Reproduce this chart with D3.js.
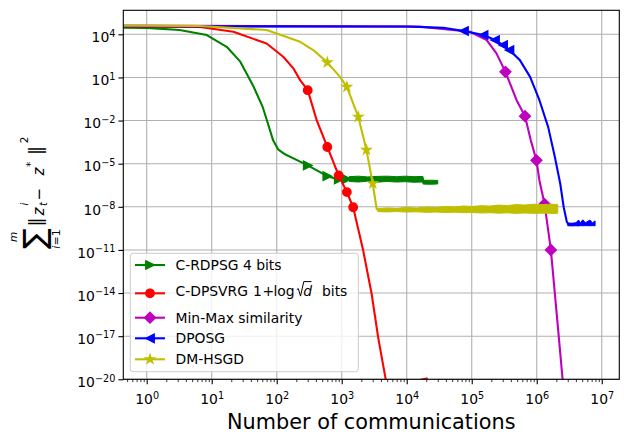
<!DOCTYPE html>
<html>
<head>
<meta charset="utf-8">
<script src="https://cdn.jsdelivr.net/npm/d3@7"></script>
<style>
  body { margin: 0; background: #fff; }
  svg { font-family: "DejaVu Sans", sans-serif; }
</style>
</head>
<body>
<svg id="chart" width="629" height="443"></svg>
<script>
// Values: [communications, error]
const rdpsgLine = [[0.44, 2.9e4], [1, 2.8e4], [3.2, 2e4], [8.4, 8.9e3], [17, 1.35e3], [27.5, 125], [43, 2.9], [61, 0.085], [73, 6.5e-3], [88, 4.2e-4], [105, 1e-4], [134, 4.5e-5], [229, 1.4e-5], [300, 7.6e-6], [600, 1.35e-6], [900, 8e-7], [1200, 8.5e-7], [17800, 8.5e-7], [17900, 5.2e-7], [30000, 5.2e-7]];
const rdpsgMarkX = [300, 600, 900, 1200];
const rdpsgMarkY = [7.6e-6, 1.35e-6, 8e-7, 8.5e-7];
// noisy plateau envelope: [x, low, high]
const rdpsgBand = [[1300, 5.8e-7, 1.25e-6], [1800, 5.3e-7, 1.35e-6], [2500, 6e-7, 1.2e-6], [3500, 5.2e-7, 1.3e-6], [5000, 5.8e-7, 1.35e-6], [7000, 5.3e-7, 1.25e-6], [9500, 5.6e-7, 1.35e-6], [13000, 5.1e-7, 1.25e-6], [17800, 5.4e-7, 1.3e-6], [17900, 3.8e-7, 6.9e-7], [23000, 3.7e-7, 7.1e-7], [30000, 3.9e-7, 6.8e-7]];

const dpsvrgLine = [[0.44, 3.5e4], [1, 3.4e4], [6.6, 3.2e4], [21.5, 1.5e4], [70, 2.3e3], [126, 275], [180, 43], [229, 6.5], [300, 1.3], [412, 1.05e-2], [600, 1.45e-4], [900, 1.5e-6], [1200, 1.05e-7], [1500, 9.3e-9], [2140, 9e-12], [2890, 8.5e-15], [3640, 8e-18], [4790, 8e-21], [6000, 1e-24], [15900, 9e-21], [20300, 1.15e-20], [21000, 1e-24]];
const dpsvrgMarkX = [300, 600, 900, 1200, 1500];
const dpsvrgMarkY = [1.3, 1.45e-4, 1.5e-6, 1.05e-7, 9.3e-9];

const minmaxLine = [[0.44, 4e4], [1.6e4, 3.4e4], [9.4e4, 1.5e4], [1.7e5, 4e3], [2.4e5, 470], [3.3e5, 24.5], [4.9e5, 0.26], [6.6e5, 0.02], [8.1e5, 4.2e-4], [9.9e5, 1.7e-5], [1.1e6, 6.8e-7], [1.32e6, 1.55e-8], [1.65e6, 1e-11], [2.03e6, 3.4e-16], [2.5e6, 1e-20], [2.7e6, 1e-22]];
const minmaxMarkX = [3.3e5, 6.6e5, 9.9e5, 1.32e6, 1.65e6];
const minmaxMarkY = [24.5, 0.02, 1.7e-5, 1.55e-8, 1e-11];

const dposgLine = [[0.44, 3.6e4], [1e4, 3.5e4], [3.7e4, 2.8e4], [7.6e4, 1.7e4], [1.52e5, 8.9e3], [2.28e5, 4e3], [3.04e5, 1.8e3], [3.8e5, 800], [5.5e5, 160], [7.9e5, 11], [1.1e6, 0.26], [1.5e6, 3.5e-3], [1.9e6, 2.9e-5], [2.3e6, 4e-7], [2.6e6, 9.3e-9], [2.9e6, 9e-10], [3.1e6, 6.1e-10], [7.9e6, 6.1e-10]];
const dposgMarkX = [7.6e4, 1.52e5, 2.28e5, 3.04e5, 3.8e5];
const dposgMarkY = [1.7e4, 8.9e3, 4e3, 1.8e3, 800];
const dposgBand = [[3e6, 4.8e-10, 7.4e-10], [3.5e6, 4.7e-10, 7.2e-10], [4e6, 4.8e-10, 7.8e-10], [4.4e6, 4.7e-10, 1.2e-9], [4.7e6, 4.9e-10, 7.5e-10], [5.1e6, 4.8e-10, 1.25e-9], [5.6e6, 4.9e-10, 7.8e-10], [6.6e6, 4.8e-10, 1.2e-9], [7.2e6, 4.9e-10, 7.6e-10], [7.9e6, 4.8e-10, 1.05e-9]];

const dmhsgdLine = [[0.44, 4e4], [6.6, 3.8e4], [70, 2e4], [229, 3e3], [365, 800], [600, 112], [940, 11], [1200, 2.2], [1800, 1.8e-2], [2400, 9.1e-5], [3000, 4.2e-7], [3450, 7e-9], [3700, 5.9e-9], [2.1e6, 5.9e-9]];
const dmhsgdMarkX = [600, 1200, 1800, 2400, 3000];
const dmhsgdMarkY = [112, 2.2, 1.8e-2, 9.1e-5, 4.2e-7];
const dmhsgdBand = [[3600, 4.6e-9, 7.6e-9], [5000, 4.4e-9, 8.4e-9], [7000, 4.7e-9, 7.8e-9], [1e4, 4.3e-9, 9.2e-9], [1.4e4, 4.5e-9, 8.2e-9], [2e4, 4.1e-9, 9.8e-9], [2.8e4, 4.3e-9, 8.8e-9], [4e4, 4e-9, 1.07e-8], [5.5e4, 4.2e-9, 9.6e-9], [7.5e4, 3.9e-9, 1.15e-8], [1e5, 4e-9, 1.04e-8], [1.4e5, 3.7e-9, 1.2e-8], [1.9e5, 3.9e-9, 1.12e-8], [2.6e5, 3.6e-9, 1.32e-8], [3.5e5, 3.8e-9, 1.2e-8], [4.8e5, 3.5e-9, 1.42e-8], [6.5e5, 3.7e-9, 1.32e-8], [9e5, 3.5e-9, 1.52e-8], [1.2e6, 3.6e-9, 1.42e-8], [1.6e6, 3.5e-9, 1.52e-8], [2.1e6, 3.5e-9, 1.46e-8]];

const legendLabels = ["C-RDPSG 4 bits", "C-DPSVRG", "Min-Max similarity", "DPOSG", "DM-HSGD"];
const xTickExp = [0, 1, 2, 3, 4, 5, 6, 7];
const yTickExp = [4, 1, -2, -5, -8, -11, -14, -17, -20];

// Set up dimensions and margins
const margin = { top: 10.3, right: 9.7, bottom: 63.7, left: 123.3 };
const width = 629 - margin.left - margin.right;
const height = 443 - margin.top - margin.bottom;

const root = d3.select("#chart");
const svg = root
  .append("g")
  .attr("transform", "translate(" + margin.left + "," + margin.top + ")");

const x = d3.scaleLog().domain([Math.pow(10, -0.36), Math.pow(10, 7.27)]).range([0, width]);
const y = d3.scaleLog().domain([1e-20, Math.pow(10, 5.67)]).range([height, 0]);

// Grid
const grid = svg.append("g").attr("stroke", "#b0b0b0").attr("stroke-width", 1.1);
grid.selectAll(".gx").data(xTickExp).enter().append("line")
  .attr("x1", (d) => x(Math.pow(10, d))).attr("x2", (d) => x(Math.pow(10, d)))
  .attr("y1", 0).attr("y2", height);
grid.selectAll(".gy").data(yTickExp).enter().append("line")
  .attr("y1", (d) => y(Math.pow(10, d))).attr("y2", (d) => y(Math.pow(10, d)))
  .attr("x1", 0).attr("x2", width);

svg.append("clipPath").attr("id", "clip")
  .append("rect").attr("width", width).attr("height", height);
const plot = svg.append("g").attr("clip-path", "url(#clip)");

const line = d3.line().x((d) => x(d[0])).y((d) => y(d[1]));
const area = d3.area().x((d) => x(d[0])).y0((d) => y(d[1])).y1((d) => y(d[2]));

// marker shapes
const shapes = {
  right: "M4.2,0L-4.2,-4.2L-4.2,4.2Z",
  left: "M-4.2,0L4.2,-4.2L4.2,4.2Z",
  circle: d3.symbol(d3.symbolCircle, Math.PI * 4.2 * 4.2)(),
  diamond: "M0,-5.4L5.4,0L0,5.4L-5.4,0Z",
  star: (() => {
    let p = "";
    for (let i = 0; i < 10; i++) {
      const r = i % 2 ? 1.75 : 4.6;
      const a = (i * Math.PI) / 5 - Math.PI / 2;
      p += (i ? "L" : "M") + (r * Math.cos(a)).toFixed(2) + "," + (r * Math.sin(a)).toFixed(2);
    }
    return p + "Z";
  })(),
};

const series = [
  { pts: rdpsgLine, band: rdpsgBand, mx: rdpsgMarkX, my: rdpsgMarkY, color: "#008000", shape: "right" },
  { pts: dpsvrgLine, band: null, mx: dpsvrgMarkX, my: dpsvrgMarkY, color: "#ff0000", shape: "circle" },
  { pts: minmaxLine, band: null, mx: minmaxMarkX, my: minmaxMarkY, color: "#bf00bf", shape: "diamond" },
  { pts: dposgLine, band: dposgBand, mx: dposgMarkX, my: dposgMarkY, color: "#0000ff", shape: "left" },
  { pts: dmhsgdLine, band: dmhsgdBand, mx: dmhsgdMarkX, my: dmhsgdMarkY, color: "#bfbf00", shape: "star" },
];

series.forEach((s) => {
  const g = plot.append("g");
  if (s.band) {
    g.append("path").datum(s.band).attr("d", area)
      .attr("fill", s.color).attr("stroke", s.color).attr("stroke-width", 1);
  }
  g.append("path").datum(s.pts).attr("d", line)
    .attr("fill", "none").attr("stroke", s.color).attr("stroke-width", 2.1)
    .attr("stroke-linejoin", "round");
  g.selectAll(".mk").data(d3.zip(s.mx, s.my)).enter().append("path")
    .attr("transform", (d) => "translate(" + x(d[0]) + "," + y(d[1]) + ")")
    .attr("d", shapes[s.shape])
    .attr("fill", s.color).attr("stroke", s.color).attr("stroke-width", 1.4)
    .attr("stroke-linejoin", "miter");
});

// superscript tick labels
function expLabel(text, e) {
  text.text(null);
  text.append("tspan").text("10");
  text.append("tspan").attr("dy", -5.6).attr("font-size", 9.7)
    .text(e < 0 ? "\u2212" + -e : String(e));
}

// minor x ticks
const xMinor = [];
for (let k = -1; k <= 7; k++) for (let m = 2; m <= 9; m++) {
  const v = m * Math.pow(10, k);
  if (v > x.domain()[0] && v < x.domain()[1]) xMinor.push(v);
}
svg.append("g").attr("transform", "translate(0," + height + ")")
  .call(d3.axisBottom(x).tickValues(xMinor).tickSize(2.8).tickFormat(""))
  .call((g) => g.select(".domain").remove())
  .selectAll("line").attr("stroke-width", 0.8);

const xAxis = svg.append("g").attr("transform", "translate(0," + height + ")")
  .call(d3.axisBottom(x).tickValues(xTickExp.map((e) => Math.pow(10, e))).tickSize(4.9))
  .attr("font-size", 13.9).attr("font-family", "DejaVu Sans");
xAxis.select(".domain").remove();
xAxis.selectAll("line").attr("stroke-width", 1.1);
xAxis.selectAll(".tick text").attr("dy", null).attr("y", 25)
  .each(function (d, i) { expLabel(d3.select(this), xTickExp[i]); });

const yAxis = svg.append("g")
  .call(d3.axisLeft(y).tickValues(yTickExp.map((e) => Math.pow(10, e))).tickSize(4.9).tickPadding(3))
  .attr("font-size", 13.9).attr("font-family", "DejaVu Sans");
yAxis.select(".domain").remove();
yAxis.selectAll("line").attr("stroke-width", 1.1);
yAxis.selectAll(".tick text").attr("dy", null).attr("y", 7.3)
  .each(function (d, i) { expLabel(d3.select(this), yTickExp[i]); });

// frame
svg.append("rect").attr("width", width).attr("height", height)
  .attr("fill", "none").attr("stroke", "#000").attr("stroke-width", 1.1);

// x label
root.append("text").attr("x", margin.left + width / 2).attr("y", 429.3)
  .attr("text-anchor", "middle").attr("font-size", 20.8)
  .text("Number of communications");

// y label: sum_{i=1}^m ||z_t^i - z^*||^2
const yl = root.append("g").attr("transform", "translate(44,193) rotate(-90)");
const ylPart = (t, px, py, size, italic, anchor) =>
  yl.append("text").attr("x", px).attr("y", py).attr("font-size", size)
    .attr("font-style", italic ? "italic" : null)
    .attr("text-anchor", anchor || "start").text(t);
ylPart("\u2211", -45.5, 0.5, 31, false, "middle");
ylPart("m", -44, -27.3, 10.5, true, "middle");
const il = yl.append("text").attr("x", -46).attr("y", 16).attr("font-size", 11).attr("text-anchor", "middle");
il.append("tspan").attr("font-style", "italic").text("i");
il.append("tspan").text("=1");
ylPart("\u2016", -33.5, -2.5, 18.4, false);
ylPart("z", -22.5, 0, 15, true);
ylPart("i", -12.5, -16, 10, true);
ylPart("t", -13, 3, 10, true);
ylPart("\u2212", -7.5, 0, 15, false);
ylPart("z", 17.5, 0, 15, true);
ylPart("*", 26, -9.6, 10.5, false);
ylPart("\u2016", 38, -2.5, 18.4, false);
ylPart("2", 49.7, -15.7, 10.5, false);

// legend
const legend = root.append("g");
legend.append("rect").attr("x", 130.3).attr("y", 253.3).attr("width", 228).attr("height", 118.4)
  .attr("rx", 2.8).attr("fill", "#fff").attr("fill-opacity", 0.8)
  .attr("stroke", "#cccccc").attr("stroke-width", 1);
const rowY = [265, 293.3, 317.7, 338.3, 359.3];
series.forEach((s, i) => {
  const ry = rowY[i];
  legend.append("line").attr("x1", 135).attr("x2", 165).attr("y1", ry).attr("y2", ry)
    .attr("stroke", s.color).attr("stroke-width", 2.1);
  legend.append("path").attr("transform", "translate(150," + ry + ")").attr("d", shapes[s.shape])
    .attr("fill", s.color).attr("stroke", s.color).attr("stroke-width", 1.4);
  const t = legend.append("text").attr("x", 175.5).attr("y", ry + 5).attr("font-size", 13.9);
  if (i === 1) {
    // "C-DPSVRG 1 + log sqrt(d) bits"
    const by = ry + 2.3;
    t.attr("y", by);
    t.append("tspan").text(legendLabels[i]);
    t.append("tspan").attr("x", 253).text("1");
    t.append("tspan").attr("x", 262.5).text("+");
    t.append("tspan").attr("x", 273.5).text("log");
    t.append("tspan").attr("x", 303.3).attr("font-style", "italic").text("d");
    t.append("tspan").attr("x", 322).attr("font-style", "normal").text("bits");
    // radical sign drawn as a path
    legend.append("path")
      .attr("d", "M296.8," + (by - 6) + "L298.3," + (by - 7) + "L300.5," + (by + 0.5) +
        "L303.8," + (by - 14) + "L311.5," + (by - 14))
      .attr("fill", "none").attr("stroke", "#000").attr("stroke-width", 1)
      .attr("stroke-linejoin", "miter");
  } else {
    t.text(legendLabels[i]);
  }
});
</script>
</body>
</html>
